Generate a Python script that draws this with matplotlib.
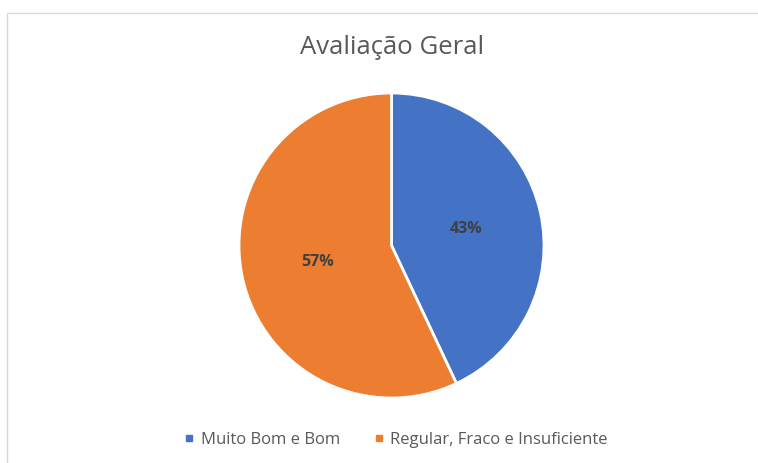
import matplotlib.pyplot as plt
from matplotlib.patches import Rectangle
from matplotlib.lines import Line2D

categories = ['Muito Bom e Bom', 'Regular, Fraco e Insuficiente']
values = [43, 57]
colors = ['#4472C4', '#ED7D31']

W, H = 758, 463
fig = plt.figure(figsize=(W / 100, H / 100), dpi=100)
fig.patch.set_facecolor('white')

# chart border
fig.add_artist(Rectangle((7 / W, -0.05), 1.0, 1 - 13 / H + 0.05, transform=fig.transFigure,
                         fill=False, edgecolor='#D9D9D9', linewidth=1))

cx, cy, r = 391.5, 245.5, 152.5
ax = fig.add_axes([(cx - r) / W, (H - cy - r) / H, 2 * r / W, 2 * r / H])
wedges, texts, autotexts = ax.pie(values, colors=colors, startangle=90, counterclock=False,
                                  autopct='%1.0f%%', pctdistance=0.5, radius=1,
                                  wedgeprops=dict(edgecolor='white', linewidth=2))
for t in autotexts:
    t.set_color('#404040')
    t.set_fontsize(11.5)
    t.set_fontweight('bold')
    t.set_family('Open Sans')
ax.set_xlim(-1, 1)
ax.set_ylim(-1, 1)
ax.set_aspect('equal')
ax.axis('off')

fig.text(392 / W, 1 - 48 / H, 'Avaliação Geral', ha='center', va='center',
         fontsize=18.5, color='#595959', family='Open Sans')

handles = [Line2D([], [], marker='s', linestyle='none', markersize=5,
                  markerfacecolor=c, markeredgecolor=c) for c in colors]
fig.legend(handles, categories, loc='center', bbox_to_anchor=(396 / W, 1 - 440 / H),
           ncol=2, frameon=False, labelcolor='#595959',
           handlelength=0.6, handletextpad=0.4, columnspacing=2.0,
           prop={'family': 'Open Sans', 'size': 12})

fig.savefig('out.png', dpi=100)
